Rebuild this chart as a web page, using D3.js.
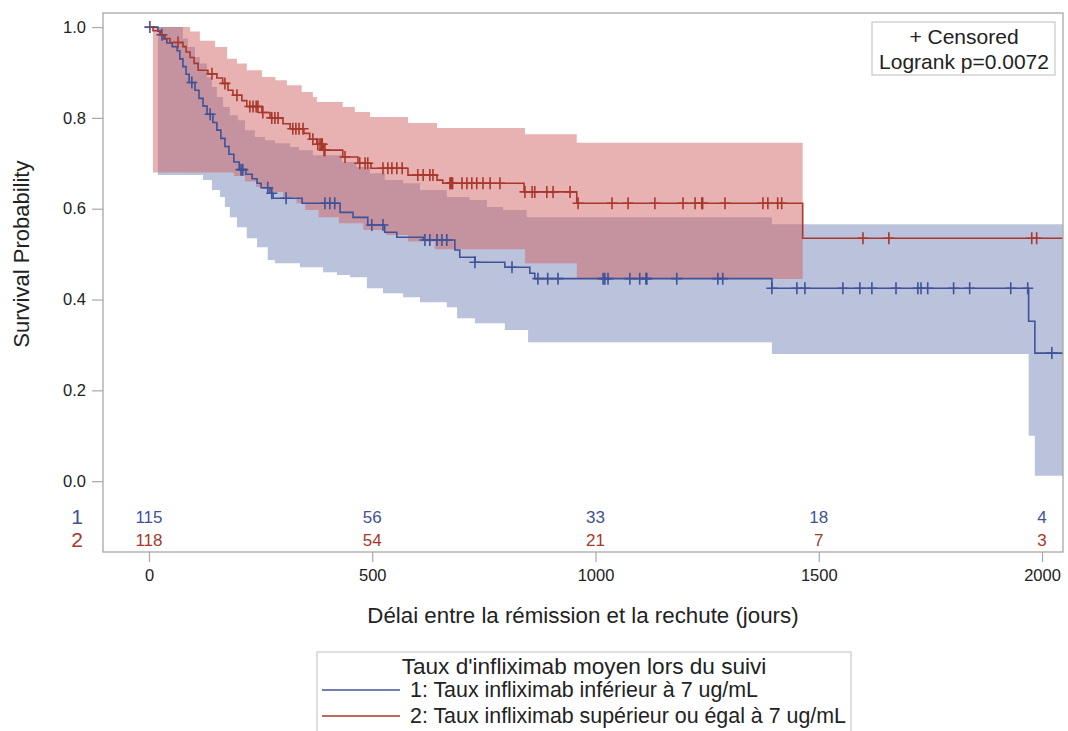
<!DOCTYPE html>
<html>
<head>
<meta charset="utf-8">
<script src="https://cdn.jsdelivr.net/npm/d3@7"></script>
<style>
  body { margin: 0; background: #fff; }
  svg { display: block; }
  text { font-family: "Liberation Sans", Arial, sans-serif; fill: #222; }
</style>
</head>
<body>
<svg id="chart" width="1068" height="731"></svg>
<script>
// ---- Kaplan-Meier data (days, survival probability) ----
const timeTicks = [0, 500, 1000, 1500, 2000];
const survTicks = [0, 0.2, 0.4, 0.6, 0.8, 1.0];
const groupIds = ["1", "2"];
const groupLabels = [
  "1: Taux infliximab inférieur à 7 ug/mL",
  "2: Taux infliximab supérieur ou égal à 7 ug/mL"
];
const legendTitle = "Taux d'infliximab moyen lors du suivi";
const atRisk1 = [115, 56, 33, 18, 4];
const atRisk2 = [118, 54, 21, 7, 3];
const lastFollowUp = 2047;

// Group 1: event times and survival after each event
const g1Time = [0, 20, 25, 33, 40, 52, 63, 69, 76, 83, 90, 103, 112, 121, 130, 143, 152, 161, 170, 179, 190, 202, 217, 231, 242, 251, 271, 278, 343, 428, 457, 490, 528, 555, 614, 685, 696, 730, 797, 853, 864, 1395, 1970, 1984];
const g1Surv = [1.0, 0.991, 0.983, 0.974, 0.965, 0.957, 0.948, 0.93, 0.913, 0.896, 0.878, 0.861, 0.843, 0.826, 0.808, 0.79, 0.773, 0.755, 0.737, 0.72, 0.703, 0.686, 0.676, 0.666, 0.656, 0.646, 0.634, 0.623, 0.612, 0.592, 0.581, 0.564, 0.548, 0.537, 0.531, 0.509, 0.493, 0.482, 0.471, 0.458, 0.446, 0.425, 0.352, 0.282];
const g1Censor = [2, 29, 96, 137, 206, 210, 266, 275, 307, 394, 405, 416, 499, 524, 618, 629, 645, 656, 667, 730, 813, 871, 893, 916, 1017, 1021, 1028, 1077, 1099, 1113, 1115, 1182, 1274, 1285, 1395, 1451, 1469, 1554, 1592, 1619, 1673, 1722, 1729, 1744, 1802, 1838, 1930, 1968, 2022];
// Group 1 confidence band
const g1UpperTime = [20, 76, 87, 103, 114, 130, 141, 152, 166, 181, 199, 215, 237, 260, 282, 316, 336, 367, 432, 465, 495, 528, 569, 607, 667, 718, 757, 793, 846, 1395];
const g1Upper = [1.0, 0.975, 0.956, 0.934, 0.92, 0.89, 0.868, 0.846, 0.824, 0.806, 0.795, 0.773, 0.758, 0.751, 0.744, 0.736, 0.729, 0.718, 0.703, 0.692, 0.678, 0.663, 0.656, 0.641, 0.626, 0.619, 0.604, 0.597, 0.581, 0.566];
const g1LowerTime = [20, 121, 141, 159, 170, 181, 197, 219, 242, 266, 282, 338, 390, 421, 450, 488, 524, 569, 607, 667, 690, 730, 797, 849, 1395, 1970, 1984];
const g1Lower = [0.674, 0.663, 0.641, 0.626, 0.604, 0.581, 0.559, 0.535, 0.515, 0.487, 0.48, 0.471, 0.46, 0.454, 0.449, 0.425, 0.414, 0.405, 0.394, 0.383, 0.359, 0.348, 0.333, 0.306, 0.28, 0.10, 0.012];
const g1BandEnd = 2047;

// Group 2: event times and survival after each event
const g2Time = [0, 9, 25, 36, 47, 76, 83, 92, 101, 110, 132, 152, 165, 177, 188, 208, 219, 253, 271, 300, 316, 347, 360, 376, 390, 434, 468, 497, 580, 645, 658, 840, 958, 1464];
const g2Surv = [1.0, 0.992, 0.983, 0.975, 0.966, 0.957, 0.945, 0.933, 0.92, 0.905, 0.897, 0.888, 0.876, 0.861, 0.85, 0.838, 0.825, 0.812, 0.8, 0.787, 0.776, 0.766, 0.753, 0.742, 0.729, 0.714, 0.70, 0.689, 0.674, 0.663, 0.656, 0.637, 0.612, 0.535];
const g2Censor = [65, 141, 170, 197, 226, 233, 240, 244, 255, 275, 282, 289, 322, 329, 336, 345, 367, 378, 383, 386, 388, 392, 394, 439, 472, 484, 490, 524, 535, 544, 555, 567, 602, 614, 629, 636, 674, 676, 678, 680, 701, 712, 723, 734, 748, 764, 786, 842, 858, 864, 891, 905, 943, 961, 1037, 1073, 1133, 1196, 1223, 1238, 1240, 1290, 1375, 1386, 1408, 1417, 1599, 1657, 1977, 1988];
// Group 2 confidence band
const g2UpperTime = [9, 92, 114, 148, 175, 197, 219, 253, 283, 309, 342, 367, 376, 434, 461, 495, 580, 645, 842, 958];
const g2Upper = [1.0, 0.99, 0.97, 0.956, 0.93, 0.92, 0.905, 0.89, 0.883, 0.872, 0.857, 0.846, 0.835, 0.824, 0.813, 0.802, 0.789, 0.778, 0.764, 0.745];
const g2LowerTime = [9, 190, 215, 240, 265, 300, 330, 350, 380, 425, 480, 530, 580, 640, 842, 958];
const g2Lower = [0.68, 0.672, 0.66, 0.648, 0.637, 0.626, 0.612, 0.597, 0.581, 0.568, 0.553, 0.542, 0.528, 0.511, 0.48, 0.445];
const g2BandEnd = 1464;

const logrankText = "Logrank p=0.0072";

// ---- colours ----
const lineColor = ["#3F5298", "#A8372C"];
const fillColor = ["#6F7EB3", "#D05B5B"];
const fillOpacity = 0.47;

// ---- layout ----
const svg = d3.select("#chart");
const frame = { left: 103, right: 1063, top: 13, bottom: 552 };
const x = d3.scaleLinear().domain([-103, 2047]).range([frame.left, frame.right]);
const y = d3.scaleLinear().domain([-0.156, 1.031]).range([frame.bottom, frame.top]);

svg.append("clipPath").attr("id", "plotClip")
  .append("rect")
  .attr("x", frame.left).attr("y", frame.top)
  .attr("width", frame.right - frame.left).attr("height", frame.bottom - frame.top);

const plot = svg.append("g").attr("clip-path", "url(#plotClip)");

// step function lookup
function stepValue(times, vals, t) {
  const i = d3.bisectRight(times, t) - 1;
  return vals[Math.max(0, i)];
}
// points tracing a right-continuous step function from times[0] to tEnd
function stepPoints(times, vals, tEnd) {
  const pts = [];
  for (let i = 0; i < times.length; i++) {
    const tNext = i + 1 < times.length ? times[i + 1] : tEnd;
    pts.push([times[i], vals[i]]);
    pts.push([tNext, vals[i]]);
  }
  return pts;
}

const line = d3.line().x(d => x(d[0])).y(d => y(d[1]));

function drawBand(upT, up, loT, lo, tEnd, k) {
  const upper = stepPoints(upT, up, tEnd);
  const lower = stepPoints(loT, lo, tEnd).reverse();
  plot.append("path")
    .attr("d", line(upper.concat(lower)) + "Z")
    .attr("fill", fillColor[k])
    .attr("fill-opacity", fillOpacity)
    .attr("stroke", "none");
}

drawBand(g1UpperTime, g1Upper, g1LowerTime, g1Lower, g1BandEnd, 0);
drawBand(g2UpperTime, g2Upper, g2LowerTime, g2Lower, g2BandEnd, 1);

function drawCurve(times, surv, censor, k) {
  plot.append("path")
    .attr("d", line(stepPoints(times, surv, lastFollowUp)))
    .attr("fill", "none")
    .attr("stroke", lineColor[k])
    .attr("stroke-width", 1.6);
  const h = 5.5;
  plot.append("g").selectAll("path")
    .data(censor)
    .join("path")
    .attr("d", t => {
      const cx = x(t), cy = y(stepValue(times, surv, t));
      return `M${cx - h},${cy}H${cx + h}M${cx},${cy - h - 0.5}V${cy + h + 0.5}`;
    })
    .attr("stroke", lineColor[k])
    .attr("stroke-width", 1.6)
    .attr("fill", "none");
}

drawCurve(g1Time, g1Surv, g1Censor, 0);
drawCurve(g2Time, g2Surv, g2Censor, 1);

// ---- frame ----
svg.append("rect")
  .attr("x", frame.left).attr("y", frame.top)
  .attr("width", frame.right - frame.left).attr("height", frame.bottom - frame.top)
  .attr("fill", "none").attr("stroke", "#A8A8A8").attr("stroke-width", 1.3);

// ---- axes ----
const yAxis = svg.append("g")
  .attr("transform", `translate(${frame.left},0)`)
  .call(d3.axisLeft(y).tickValues(survTicks).tickFormat(d3.format(".1f")).tickSize(11).tickPadding(6));
const xAxis = svg.append("g")
  .attr("transform", `translate(0,${frame.bottom})`)
  .call(d3.axisBottom(x).tickValues(timeTicks).tickFormat(d3.format("d")).tickSize(10).tickPadding(7));
[yAxis, xAxis].forEach(a => {
  a.select(".domain").remove();
  a.selectAll(".tick line").attr("stroke", "#A8A8A8").attr("stroke-width", 1.2);
  a.selectAll(".tick text").attr("fill", "#1a1a1a").style("font-size", "16.5px")
    .style("font-family", '"Liberation Sans", Arial, sans-serif');
});

svg.append("text")
  .attr("transform", `translate(29,${y(0.5)}) rotate(-90)`)
  .attr("text-anchor", "middle")
  .style("font-size", "22px")
  .text("Survival Probability");

svg.append("text")
  .attr("x", (frame.left + frame.right) / 2).attr("y", 623)
  .attr("text-anchor", "middle")
  .style("font-size", "22.3px")
  .text("Délai entre la rémission et la rechute (jours)");

// ---- number at risk ----
const riskRows = [atRisk1, atRisk2];
const riskY = [517, 540];
riskRows.forEach((row, k) => {
  svg.append("g").selectAll("text")
    .data(row)
    .join("text")
    .attr("x", (d, i) => x(timeTicks[i]))
    .attr("y", riskY[k])
    .attr("dy", "0.35em")
    .attr("text-anchor", "middle")
    .style("font-size", "17px")
    .style("fill", lineColor[k])
    .text(d => d);
  svg.append("text")
    .attr("x", 77).attr("y", riskY[k]).attr("dy", "0.35em")
    .attr("text-anchor", "middle")
    .style("font-size", "21px")
    .style("fill", lineColor[k])
    .text(groupIds[k]);
});

// ---- censored / logrank inset ----
const inset = svg.append("g");
inset.append("rect")
  .attr("x", 872).attr("y", 22).attr("width", 183).attr("height", 53)
  .attr("fill", "#fff").attr("stroke", "#C8C8C8").attr("stroke-width", 1.2);
inset.append("text").attr("x", 964).attr("y", 37).attr("dy", "0.35em")
  .attr("text-anchor", "middle").style("font-size", "21px").text("+ Censored");
inset.append("text").attr("x", 964).attr("y", 62).attr("dy", "0.35em")
  .attr("text-anchor", "middle").style("font-size", "21px").text(logrankText);

// ---- legend ----
const legend = svg.append("g");
legend.append("rect")
  .attr("x", 317).attr("y", 652).attr("width", 534).attr("height", 100)
  .attr("fill", "#fff").attr("stroke", "#C8C8C8").attr("stroke-width", 1.2);
legend.append("text").attr("x", 584).attr("y", 666).attr("dy", "0.35em")
  .attr("text-anchor", "middle").style("font-size", "22.6px").text(legendTitle);
const legendY = [690, 716];
groupLabels.forEach((lab, k) => {
  legend.append("line")
    .attr("x1", 322).attr("x2", 400).attr("y1", legendY[k]).attr("y2", legendY[k])
    .attr("stroke", lineColor[k]).attr("stroke-width", 1.6);
  legend.append("text").attr("x", 410).attr("y", legendY[k]).attr("dy", "0.35em")
    .style("font-size", "21.4px").text(lab);
});
</script>
</body>
</html>
